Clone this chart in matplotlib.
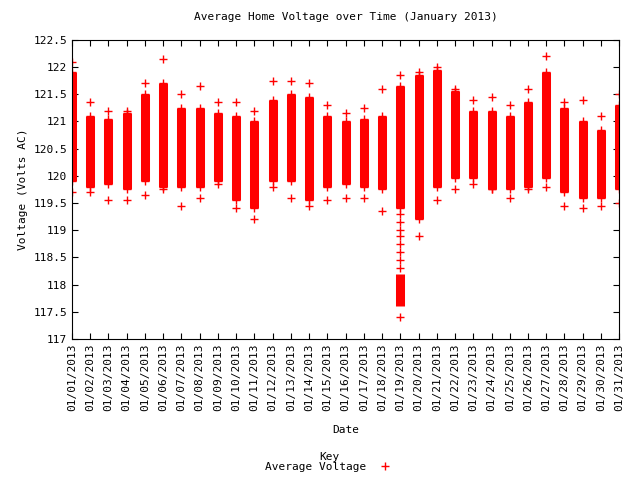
import matplotlib
matplotlib.use('Agg')
import matplotlib.pyplot as plt

days = list(range(1, 32))
date_labels = ['01/%02d/2013' % d for d in days]
y_ticks = [117 + 0.5 * i for i in range(12)]
# dense band of readings per day
band_low = [119.9, 119.8, 119.85, 119.75, 119.9, 119.8, 119.8, 119.8, 119.9, 119.55, 119.4,
            119.9, 119.9, 119.55, 119.8, 119.85, 119.8, 119.75, 119.4, 119.2, 119.8,
            119.95, 119.95, 119.75, 119.75, 119.8, 119.95, 119.7, 119.6, 119.6, 119.75]
band_high = [121.9, 121.1, 121.05, 121.15, 121.5, 121.7, 121.25, 121.25, 121.15, 121.1, 121.0,
             121.4, 121.5, 121.45, 121.1, 121.0, 121.05, 121.1, 121.65, 121.85, 121.95,
             121.55, 121.2, 121.2, 121.1, 121.35, 121.9, 121.25, 121.0, 120.85, 121.3]
# extreme readings per day
ext_low = [119.7, 119.7, 119.55, 119.55, 119.65, 119.75, 119.45, 119.6, 119.85, 119.4, 119.2,
           119.8, 119.6, 119.45, 119.55, 119.6, 119.6, 119.35, 117.4, 118.9, 119.55,
           119.75, 119.85, 119.75, 119.6, 119.75, 119.8, 119.45, 119.4, 119.45, 119.5]
ext_high = [122.1, 121.35, 121.2, 121.2, 121.7, 122.15, 121.5, 121.65, 121.35, 121.35, 121.2,
            121.75, 121.75, 121.7, 121.3, 121.15, 121.25, 121.6, 121.85, 121.9, 122.0,
            121.6, 121.4, 121.45, 121.3, 121.6, 122.2, 121.35, 121.4, 121.1, 121.5]
# the voltage dip on 01/19
dip_day = 19
dip_low, dip_high = 117.6, 118.2
dip_points = [118.3, 118.45, 118.6, 118.75, 118.9, 119.0, 119.15, 119.3]

plt.rcParams['font.family'] = 'DejaVu Sans Mono'
plt.rcParams['font.size'] = 8

fig = plt.figure(figsize=(6.4, 4.8), dpi=100)
ax = fig.add_axes([0.1125, 0.294, 0.855, 0.623])

ax.vlines(days, band_low, band_high, colors='red', linewidth=6.5)
ax.vlines([dip_day], [dip_low], [dip_high], colors='red', linewidth=6.5)
for d, a, b, c, e in zip(days, ext_low, band_low, band_high, ext_high):
    ax.plot([d] * 4, [a, b, c, e], '+', color='red', markersize=6, mew=1)
ax.plot([dip_day] * len(dip_points), dip_points, '+', color='red', markersize=6, mew=1)
ax.plot([], [], '+', color='red', markersize=6, mew=1, label='Average Voltage')

ax.set_xlim(1, 31)
ax.set_ylim(117, 122.5)
ax.set_xticks(days)
ax.set_xticklabels(date_labels, rotation=90)
ax.set_yticks(y_ticks)
ax.set_yticklabels(['%g' % v for v in y_ticks])
ax.tick_params(direction='in', top=True, right=True, length=4)
ax.set_title('Average Home Voltage over Time (January 2013)', fontsize=8, pad=14)
ax.set_xlabel('Date', labelpad=10)
ax.set_ylabel('Voltage (Volts AC)')
leg = ax.legend(title='Key', loc='upper center', bbox_to_anchor=(0.47, -0.36),
                frameon=False, markerfirst=False, handlelength=1.5, borderpad=0,
                labelspacing=0, handletextpad=1)
leg.get_title().set_fontsize(8)

fig.savefig('out.png', dpi=100)
